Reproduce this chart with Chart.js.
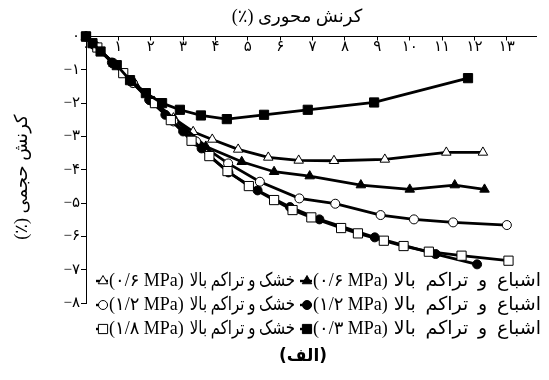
<!DOCTYPE html>
<html>
<head>
<meta charset="utf-8">
<script src="https://cdn.jsdelivr.net/npm/chart.js@4.4.1/dist/chart.umd.min.js"></script>
<style>
  html, body { margin: 0; padding: 0; background: #fff; }
</style>
</head>
<body>
<canvas id="strainChart" width="549" height="380"></canvas>
<script>
// tick labels (Persian digits)
var xTickLabels = ['۰','۱','۲','۳','۴','۵','۶','۷','۸','۹','۱۰','۱۱','۱۲','۱۳'];
var yTickLabels = ['۰','−۱','−۲','−۳','−۴','−۵','−۶','−۷','−۸'];

// saturated, 0.3 MPa (filled square)
var sat03X = [0, 0.2, 0.45, 0.95, 1.36, 1.85, 2.35, 2.9, 3.55, 4.35, 5.5, 6.85, 8.9, 11.8];
var sat03Y = [0, -0.2, -0.45, -0.86, -1.31, -1.7, -2.0, -2.2, -2.37, -2.48, -2.35, -2.2, -1.98, -1.25];

// dry, 1.8 MPa (open square)
var dry18X = [0, 0.35, 1.15, 2.13, 2.62, 3.26, 3.81, 4.37, 5.03, 5.81, 6.38, 6.96, 7.88, 8.4, 9.2, 9.81, 10.59, 11.6, 13.05];
var dry18Y = [0, -0.33, -1.1, -2.0, -2.51, -3.13, -3.59, -4.04, -4.49, -4.91, -5.21, -5.43, -5.75, -5.91, -6.13, -6.29, -6.46, -6.58, -6.73];

// saturated, 1.2 MPa (filled circle)
var sat12X = [0, 0.25, 0.8, 1.4, 1.95, 2.45, 3.0, 3.57, 4.4, 5.3, 6.3, 7.21, 8.92, 10.8, 12.08];
var sat12Y = [0, -0.25, -0.78, -1.35, -1.9, -2.35, -2.85, -3.36, -4.08, -4.62, -5.12, -5.49, -6.03, -6.53, -6.84];

// dry, 1.2 MPa (open circle)
var dry12X = [0, 0.3, 0.85, 1.45, 2.1, 2.7, 3.4, 4.39, 5.37, 6.59, 7.7, 9.1, 10.13, 11.34, 13.0];
var dry12Y = [0, -0.3, -0.8, -1.4, -2.0, -2.55, -3.15, -3.81, -4.36, -4.86, -5.02, -5.36, -5.49, -5.58, -5.66];

// saturated, 0.6 MPa (filled triangle)
var sat06X = [0, 0.25, 0.85, 1.45, 2.05, 2.75, 3.7, 4.81, 5.81, 6.91, 8.49, 10.0, 11.39, 12.31];
var sat06Y = [0, -0.25, -0.82, -1.38, -1.95, -2.5, -3.3, -3.76, -4.06, -4.19, -4.46, -4.59, -4.46, -4.59];

// dry, 0.6 MPa (open triangle)
var dry06X = [0, 0.3, 0.9, 1.5, 2.1, 2.7, 3.31, 3.9, 4.7, 5.63, 6.57, 7.66, 9.23, 11.13, 12.26];
var dry06Y = [0, -0.28, -0.85, -1.4, -1.95, -2.45, -2.86, -3.09, -3.39, -3.63, -3.72, -3.73, -3.69, -3.48, -3.48];

var satName = 'اشباع و تراکم بالا';
var dryName = 'خشک و تراکم بالا';
var xTitle = 'کرنش محوری (٪)';
var yTitle = 'کرنش حجمی (٪)';
var caption = '(الف)';

function pts(xs, ys) {
  return xs.map(function (x, i) { return { x: x, y: ys[i] }; });
}

function series(xs, ys, style, filled, r) {
  return {
    data: pts(xs, ys),
    borderColor: '#000',
    borderWidth: 2.8,
    pointStyle: style,
    pointRadius: r,
    pointBorderColor: '#000',
    pointBorderWidth: 1,
    pointBackgroundColor: filled ? '#000' : '#fff',
    fill: false,
    tension: 0
  };
}

var legendRows = [
  { left: { style: 'triangle', filled: false, r: 5.5, p: '۰/۶' }, right: { style: 'triangle', filled: true, r: 5.5, p: '۰/۶' } },
  { left: { style: 'circle', filled: false, r: 4.5, p: '۱/۲' }, right: { style: 'circle', filled: true, r: 4.5, p: '۱/۲' } },
  { left: { style: 'rect', filled: false, r: 6.5, p: '۱/۸' }, right: { style: 'rect', filled: true, r: 6.5, p: '۰/۳' } }
];

// persian texts (titles, legend, caption) drawn with rtl direction
var textPlugin = {
  id: 'persianText',
  afterDraw: function (chart) {
    var ctx = chart.ctx;
    var rowY = [281, 305, 329];
    ctx.save();
    ctx.textBaseline = 'middle';
    ctx.fillStyle = '#000';

    ctx.direction = 'rtl';
    ctx.textAlign = 'center';
    ctx.font = '18px "Liberation Serif", "DejaVu Sans"';
    ctx.fillText(xTitle, 297, 17);
    ctx.save();
    ctx.translate(22, 177);
    ctx.rotate(-Math.PI / 2);
    ctx.fillText(yTitle, 0, 0);
    ctx.restore();

    legendRows.forEach(function (row, i) {
      [[row.left, 103, dryName, 295], [row.right, 307, satName, 541]].forEach(function (c) {
        var item = c[0], mx = c[1], y = rowY[i];
        ctx.strokeStyle = '#000';
        ctx.lineWidth = 2.4;
        ctx.beginPath();
        ctx.moveTo(mx - 7, y);
        ctx.lineTo(mx + 5, y);
        ctx.stroke();
        ctx.fillStyle = item.filled ? '#000' : '#fff';
        ctx.lineWidth = 1;
        Chart.helpers.drawPoint(ctx, { pointStyle: item.style, radius: item.r, rotation: 0, borderWidth: 1 }, mx, y);
        ctx.fillStyle = '#000';
        ctx.font = '18px "Liberation Serif", "DejaVu Sans"';
        ctx.direction = 'ltr';
        ctx.textAlign = 'left';
        var paren = '(' + item.p + ' MPa)';
        ctx.fillText(paren, mx + 6, y);
        var start = mx + 6 + ctx.measureText(paren).width + 6;
        ctx.direction = 'rtl';
        ctx.font = '19px "Liberation Serif", "DejaVu Sans"';
        var natural = ctx.measureText(c[2]).width;
        var avail = c[3] - start;
        ctx.wordSpacing = Math.min(6, Math.max(0, (avail - natural) / 3)) + 'px';
        ctx.textAlign = 'left';
        ctx.fillText(c[2], start, y, avail);
        ctx.wordSpacing = '0px';
      });
    });
    ctx.direction = 'rtl';
    ctx.textAlign = 'center';
    ctx.font = 'bold 17px "DejaVu Sans"';
    ctx.fillText(caption, 303, 357);
    ctx.restore();
  }
};

var ctx = document.getElementById('strainChart').getContext('2d');
var strainChart = new Chart(ctx, {
  type: 'line',
  data: {
    datasets: [
      series(sat03X, sat03Y, 'rect', true, 6.5),
      series(dry18X, dry18Y, 'rect', false, 6.5),
      series(sat12X, sat12Y, 'circle', true, 4.5),
      series(dry12X, dry12Y, 'circle', false, 4.5),
      series(sat06X, sat06Y, 'triangle', true, 5.5),
      series(dry06X, dry06Y, 'triangle', false, 5.5)
    ]
  },
  options: {
    responsive: false,
    animation: false,
    clip: false,
    layout: { padding: { left: 0, right: 13, top: 0, bottom: 77 } },
    plugins: { legend: { display: false }, tooltip: { enabled: false } },
    scales: {
      x: {
        type: 'linear',
        position: 'top',
        min: 0,
        max: 13.9,
        afterFit: function (s) { s.height = 36.5; },
        border: { display: true, color: '#000', width: 1 },
        grid: { drawOnChartArea: false, tickLength: -4, tickColor: '#000' },
        ticks: {
          stepSize: 1,
          includeBounds: false,
          mirror: true,
          padding: 2,
          color: '#000',
          font: { family: '"Liberation Serif", "DejaVu Sans"', size: 15 },
          callback: function (v) { return xTickLabels[v]; }
        }
      },
      y: {
        type: 'linear',
        min: -8,
        max: 0,
        afterFit: function (s) { s.width = 86; },
        border: { display: true, color: '#000', width: 1 },
        grid: { drawOnChartArea: false, tickLength: 5, tickColor: '#000' },
        ticks: {
          stepSize: 1,
          padding: 1,
          color: '#000',
          font: { family: '"Liberation Serif", "DejaVu Sans"', size: 15 },
          callback: function (v) { return yTickLabels[-v]; }
        }
      }
    }
  },
  plugins: [textPlugin]
});
</script>
</body>
</html>
